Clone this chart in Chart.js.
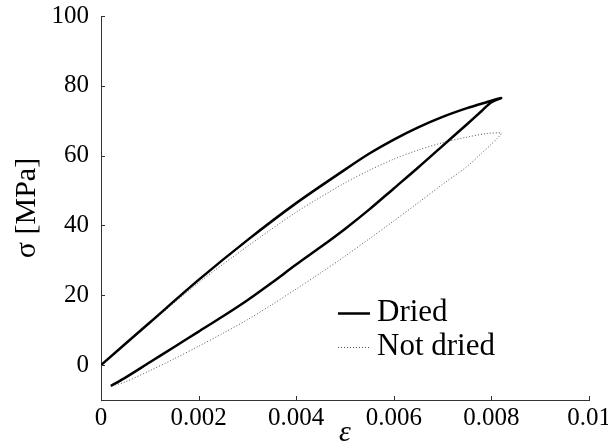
<!DOCTYPE html>
<html>
<head>
<meta charset="utf-8">
<script src="https://cdn.jsdelivr.net/npm/chart.js@4"></script>
<style>
  html, body { margin: 0; padding: 0; background: #fff; }
  #wrap { width: 608px; height: 448px; }
</style>
</head>
<body>
<div id="wrap"><canvas id="chart" width="608" height="448"></canvas></div>
<script>
// ===============================
// Data
// ===============================
const seriesNames = ["Dried", "Not dried"];

// loading branch up to the tip, then unloading branch back down
const driedStrain = [0, 0.001, 0.002, 0.003, 0.004, 0.005, 0.0055, 0.006, 0.0065, 0.007, 0.0075, 0.0079, 0.0082,
                     0.008, 0.0078, 0.0075, 0.007, 0.0065, 0.006, 0.0055, 0.005, 0.0045, 0.004, 0.0035, 0.003,
                     0.0025, 0.002, 0.0015, 0.001, 0.0005, 0.0002];
const driedStress = [0, 12.2, 24.4, 35.8, 46.4, 56, 60.6, 64.6, 68.1, 71.1, 73.6, 75.3, 76.5,
                     75.3, 72.8, 69, 62.8, 56.6, 50.6, 44.6, 39, 33.8, 28.8, 23.6, 18.6,
                     14, 9.6, 5.2, 0.8, -3.6, -6];

const wetStrain = [0, 0.001, 0.002, 0.003, 0.004, 0.005, 0.0055, 0.006, 0.0065, 0.007, 0.0075, 0.0079, 0.0082,
                   0.0081, 0.008, 0.0078, 0.0075, 0.007, 0.0065, 0.006, 0.0055, 0.005, 0.0045, 0.004, 0.0035,
                   0.003, 0.0025, 0.002, 0.0015, 0.001, 0.0005, 0.0003];
const wetStress = [0, 11.9, 23.6, 34, 43.8, 52.2, 55.8, 59, 61.6, 63.7, 65.3, 66.3, 66.4,
                   64.7, 63.3, 60.7, 56.9, 51.8, 46.5, 41.3, 36.2, 31.2, 26.4, 21.8, 17.3,
                   13, 9.1, 5.4, 1.8, -1.6, -4.8, -5.7];

const xTicks = [0, 0.002, 0.004, 0.006, 0.008, 0.01];
const yTicks = [0, 20, 40, 60, 80, 100];

const toPoints = (xs, ys) => xs.map((x, i) => ({ x: x, y: ys[i] }));

const serif = "'Liberation Serif', 'DejaVu Serif', serif";

// ===============================
// Inward tick marks
// ===============================
const innerTicks = {
    id: 'innerTicks',
    afterDraw(chart) {
        const c = chart.ctx;
        const xs = chart.scales.x;
        const ys = chart.scales.y;
        const area = chart.chartArea;
        c.save();
        c.strokeStyle = '#333';
        c.lineWidth = 1;
        c.beginPath();
        xTicks.forEach(v => {
            const px = Math.round(xs.getPixelForValue(v)) + 0.5;
            c.moveTo(px, area.bottom);
            c.lineTo(px, area.bottom - 4);
        });
        yTicks.forEach(v => {
            const py = Math.round(ys.getPixelForValue(v)) + 0.5;
            c.moveTo(area.left, py);
            c.lineTo(area.left + 4, py);
        });
        c.stroke();
        c.restore();
    }
};

// ===============================
// Legend drawn inside the plot
// ===============================
const insideLegend = {
    id: 'insideLegend',
    afterDraw(chart) {
        const c = chart.ctx;
        const x0 = 338, x1 = 370, textX = 377;
        const rows = [313, 347];
        c.save();
        c.font = "31px " + serif;
        c.textBaseline = 'middle';
        c.fillStyle = '#000';
        chart.data.datasets.forEach((ds, i) => {
            const y = rows[i] + 0.5;
            c.strokeStyle = ds.borderColor;
            c.lineWidth = ds.borderWidth;
            c.setLineDash(ds.borderDash || []);
            c.beginPath();
            c.moveTo(x0, y);
            c.lineTo(x1, y);
            c.stroke();
            c.setLineDash([]);
            c.fillText(ds.label, textX, rows[i]);
        });
        c.restore();
    }
};

const chart = new Chart(document.getElementById('chart').getContext('2d'), {
    type: 'scatter',
    data: {
        datasets: [
            {
                label: seriesNames[0],
                data: toPoints(driedStrain, driedStress),
                showLine: true,
                borderColor: '#000',
                borderWidth: 2.5,
                pointRadius: 0,
                tension: 0.3,
                fill: false
            },
            {
                label: seriesNames[1],
                data: toPoints(wetStrain, wetStress),
                showLine: true,
                borderColor: '#555',
                borderWidth: 1,
                borderDash: [1, 2],
                pointRadius: 0,
                tension: 0.3,
                fill: false
            }
        ]
    },
    options: {
        responsive: false,
        animation: false,
        layout: {
            autoPadding: false,
            padding: { top: 16, right: 19, left: 0, bottom: 0 }
        },
        plugins: {
            legend: { display: false },
            tooltip: { enabled: false }
        },
        scales: {
            x: {
                type: 'linear',
                min: 0,
                max: 0.01,
                afterBuildTicks: s => { s.ticks = xTicks.map(v => ({ value: v })); },
                afterFit: s => { s.height = 48; s.paddingLeft = 0; s.paddingRight = 0; },
                grid: { display: false, drawTicks: false },
                border: { display: true, color: '#333', width: 1 },
                ticks: {
                    color: '#000',
                    padding: 3,
                    maxRotation: 0,
                    font: { family: serif, size: 25 },
                    callback: v => String(v)
                },
                title: {
                    display: true,
                    text: 'ε',
                    color: '#000',
                    font: { family: serif, size: 30, style: 'italic', lineHeight: 1 },
                    padding: { top: 0, bottom: 0 }
                }
            },
            y: {
                type: 'linear',
                min: -10,
                max: 100,
                afterBuildTicks: s => { s.ticks = yTicks.map(v => ({ value: v })); },
                afterFit: s => { s.width = 101; s.paddingTop = 0; s.paddingBottom = 0; },
                grid: { display: false, drawTicks: false },
                border: { display: true, color: '#333', width: 1 },
                ticks: {
                    color: '#000',
                    padding: 12,
                    font: { family: serif, size: 25 },
                    callback: v => String(v)
                },
                title: {
                    display: true,
                    text: 'σ [MPa]',
                    color: '#000',
                    font: { family: serif, size: 30, lineHeight: 1.2 },
                    padding: { top: 9, bottom: 0 }
                }
            }
        }
    },
    plugins: [innerTicks, insideLegend]
});
</script>
</body>
</html>
